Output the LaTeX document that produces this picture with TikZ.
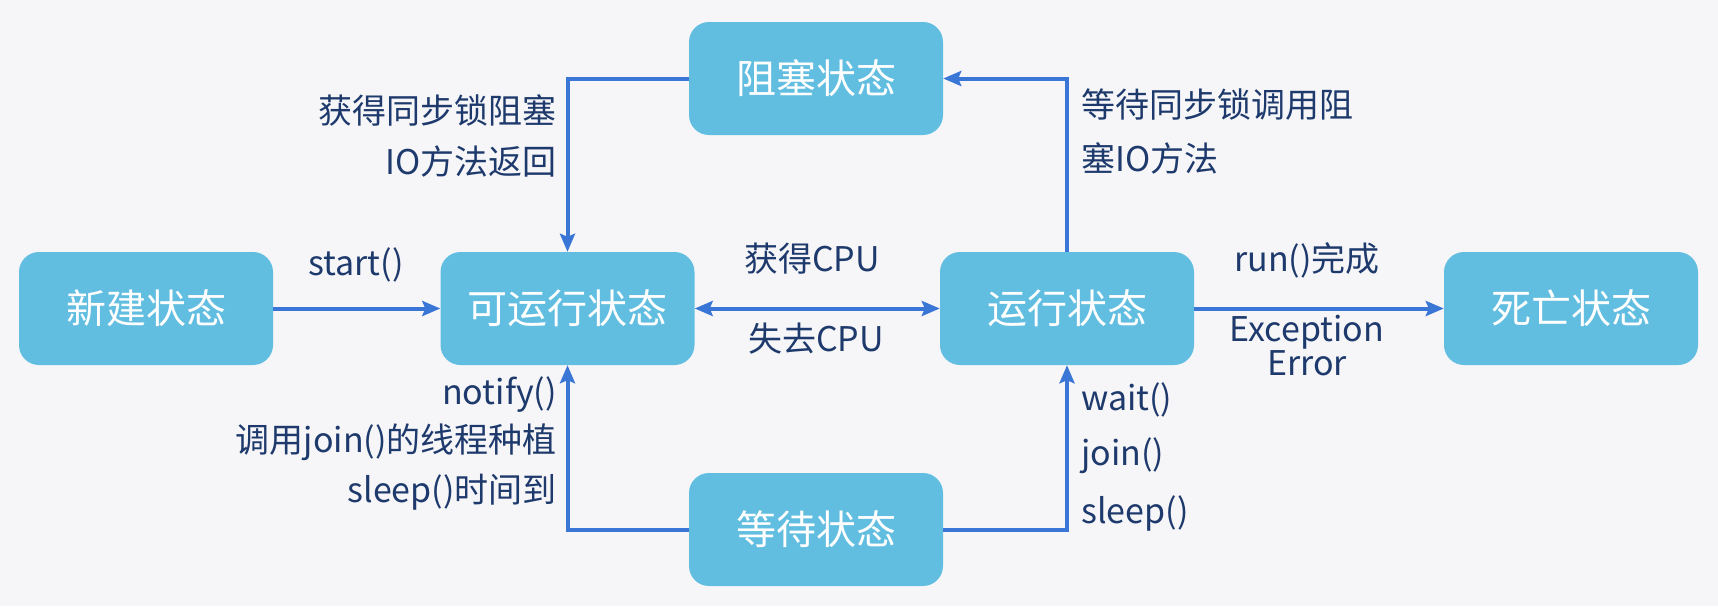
\documentclass[tikz,border=0pt]{standalone}
\usepackage{fontspec}
\setmainfont{Noto Sans CJK SC}
\usetikzlibrary{arrows.meta}
\definecolor{bgcol}{HTML}{F6F6F9}
\definecolor{boxcol}{HTML}{62BEE0}
\definecolor{linecol}{HTML}{3A76D6}
\definecolor{txtcol}{HTML}{1E3A6C}
\tikzset{
  state/.style={draw=none, fill=boxcol, rounded corners=20pt, minimum width=254pt, minimum height=113pt,
    text=white, font=\fontsize{40}{44}\selectfont, inner sep=0pt},
  tip/.tip={Stealth[length=18pt,width=15pt,inset=3pt]},
  arr/.style={draw=linecol, line width=4pt, -tip},
  darr/.style={draw=linecol, line width=4pt, tip-tip},
  lbl/.style={text=txtcol, font=\fontsize{34}{38}\selectfont, inner sep=0pt, text height=0.8em, text depth=0.2em}
}
\begin{document}
\begin{tikzpicture}[x=1pt,y=-1pt]
\fill[bgcol] (0,0) rectangle (1718,606);
\useasboundingbox (0,0) rectangle (1718,606);
% states
\node[state] (new) at (146,308.5) {新建状态};
\node[state] (runnable) at (567.5,308.5) {可运行状态};
\node[state] (running) at (1067,308.5) {运行状态};
\node[state] (dead) at (1571,308.5) {死亡状态};
\node[state] (blocked) at (816,78.5) {阻塞状态};
\node[state] (waiting) at (816,529.5) {等待状态};
% connectors
\draw[arr] (new) -- (runnable);
\draw[darr] (runnable) -- (running);
\draw[arr] (running) -- (dead);
\draw[arr] (blocked.west) -| (runnable.north);
\draw[arr] (running.north) |- (blocked.east);
\draw[arr] (waiting.west) -| (runnable.south);
\draw[arr] (waiting.east) -| (running.south);
% labels
\node[lbl] (lstart) at (356,272) {start()};
\node[lbl] (lget) at (812,268) {获得CPU};
\node[lbl] (llose) at (816,348) {失去CPU};
\node[lbl, anchor=east] (lb1) at (557,120) {获得同步锁阻塞};
\node[lbl, anchor=east] (lb2) at (557,171) {IO方法返回};
\node[lbl, anchor=west] (lw1) at (1081,114) {等待同步锁调用阻};
\node[lbl, anchor=west] (lw2) at (1081,168) {塞IO方法};
\node[lbl] (lrun) at (1307,268) {run()完成};
\node[lbl] (lexc) at (1307,338) {Exception};
\node[lbl] (lerr) at (1307,372) {Error};
\node[lbl, anchor=east] (ln1) at (557,401) {notify()};
\node[lbl, anchor=east] (ln2) at (557,449) {调用join()的线程种植};
\node[lbl, anchor=east] (ln3) at (557,499) {sleep()时间到};
\node[lbl, anchor=west] (lr1) at (1081,407) {wait()};
\node[lbl, anchor=west] (lr2) at (1081,462) {join()};
\node[lbl, anchor=west] (lr3) at (1081,520) {sleep()};
\end{tikzpicture}
\end{document}
